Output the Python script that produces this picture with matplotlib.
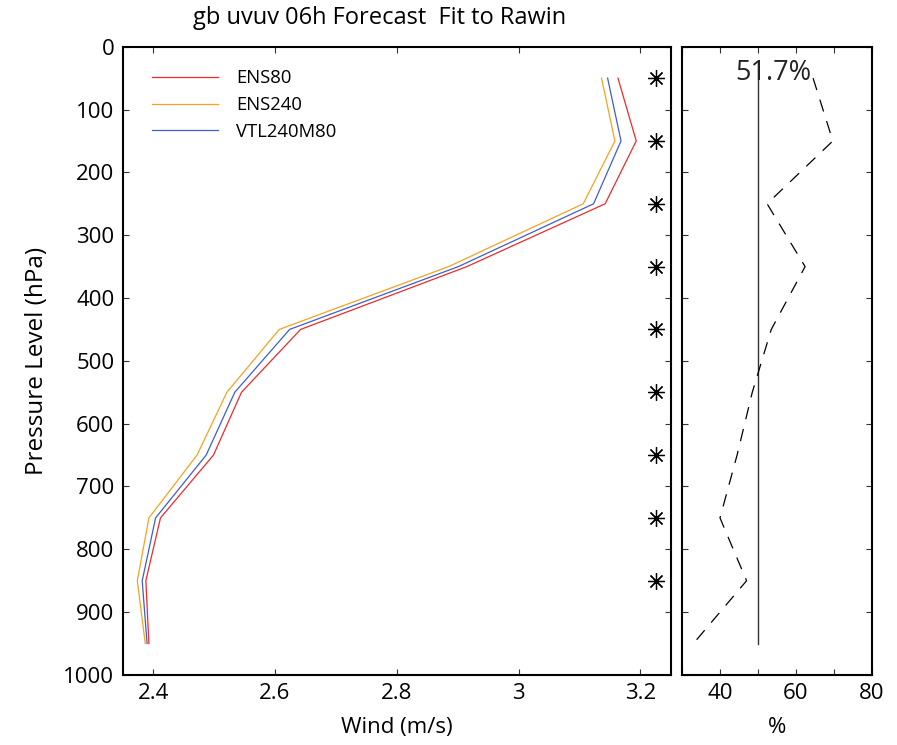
import matplotlib
matplotlib.use('Agg')
import matplotlib.pyplot as plt

plt.rcParams['font.family'] = ['Open Sans', 'DejaVu Sans']

# pressure levels (hPa) and rms fits
levels = [50, 150, 250, 350, 450, 550, 650, 750, 850, 950]
ens80 = [3.163, 3.193, 3.142, 2.915, 2.642, 2.545, 2.499, 2.412, 2.388, 2.393]
ens240 = [3.136, 3.158, 3.106, 2.885, 2.607, 2.521, 2.472, 2.393, 2.374, 2.387]
vtl240m80 = [3.146, 3.168, 3.123, 2.901, 2.624, 2.534, 2.487, 2.404, 2.382, 2.390]
sig_levels = [50, 150, 250, 350, 450, 550, 650, 750, 850]
pct = [64.5, 69.7, 52.4, 62.4, 53.5, 48.5, 44.5, 40.0, 47.0, 33.0]
ref_line = [25, 950]
pct_label = '51.7%'

fig = plt.figure(figsize=(8.97, 7.45), dpi=100)
fig.patch.set_facecolor('white')

ax1 = fig.add_axes([0.1368, 0.0940, 0.6112, 0.8433])
ax2 = fig.add_axes([0.7603, 0.0940, 0.2118, 0.8433])

ax1.plot(ens80, levels, color='#ee2a2a', lw=0.9, label='ENS80')
ax1.plot(ens240, levels, color='#f7a21f', lw=0.9, label='ENS240')
ax1.plot(vtl240m80, levels, color='#3f5ec8', lw=0.9, label='VTL240M80')
ax1.plot([3.226] * len(sig_levels), sig_levels, ls='none', marker=(8, 2, 0),
         ms=12, mew=0.9, color='black')

ax1.set_xlim(2.35, 3.25)
ax1.set_ylim(1000, 0)
ax1.set_xticks([2.4, 2.6, 2.8, 3.0, 3.2])
ax1.set_xticklabels(['2.4', '2.6', '2.8', '3', '3.2'])
ax1.set_yticks(range(0, 1001, 100))
ax1.set_xlabel('Wind (m/s)', fontsize=16, labelpad=9)
ax1.set_ylabel('Pressure Level (hPa)', fontsize=17.5, labelpad=10)

leg = ax1.legend(loc='upper left', bbox_to_anchor=(0.053, 0.964), frameon=False,
                 fontsize=13.3, handlelength=3.6, handletextpad=0.95,
                 labelspacing=0.47, borderaxespad=0, borderpad=0)

ax2.plot([50, 50], ref_line, color='#333333', lw=1.0)
dl, = ax2.plot(pct, levels, color='black', lw=0.9)
dl.set_dashes((10, 8))
ax2.text(54, 42, pct_label, fontsize=19.5, ha='center', va='center', color='#222222')
ax2.set_xlim(30, 80)
ax2.set_ylim(1000, 0)
ax2.set_xticks([30, 40, 50, 60, 70, 80])
ax2.set_xticklabels(['', '40', '', '60', '', '80'])
ax2.set_yticks(range(0, 1001, 100))
ax2.set_yticklabels([])
ax2.set_xlabel('%', fontsize=16, labelpad=9)

for ax in (ax1, ax2):
    ax.tick_params(direction='in', length=4, width=0.8, labelsize=16,
                   top=True, right=True, color='#333333', pad=6)
    for s in ax.spines.values():
        s.set_linewidth(1.5)

fig.text(380 / 897, 1 - 18 / 745, 'gb uvuv 06h Forecast  Fit to Rawin',
         fontsize=17, ha='center', va='center')

fig.savefig('out.png', dpi=100)
